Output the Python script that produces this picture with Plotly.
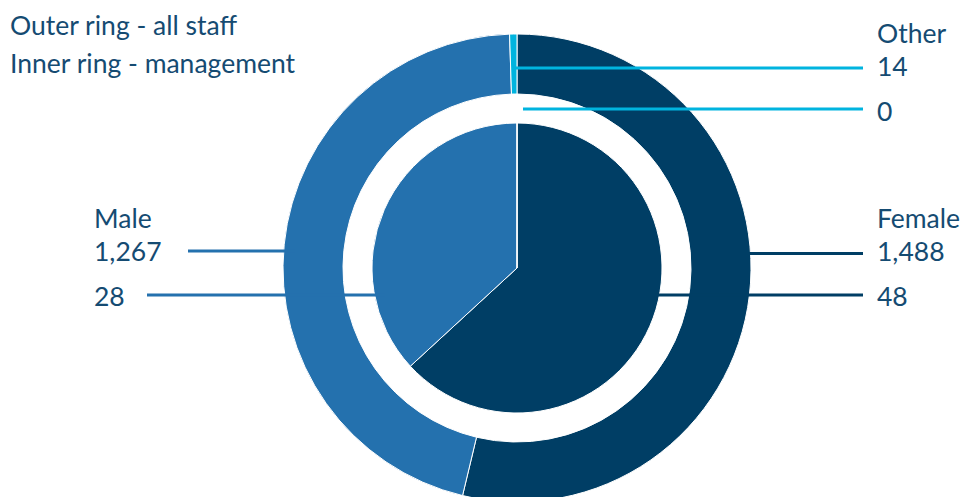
import plotly.graph_objects as go

# ---- data ----
categories = ["Female", "Male", "Other"]
all_staff = [1488, 1267, 14]
management = [48, 28, 0]
colors = ["#003e65", "#2471ae", "#00b4df"]
text_color = "#154b72"

W, H = 963, 502
cx, cy = 517, 268
r_out, r_hole, r_in = 234, 174, 145


def px(x):
    return x / W


def py(y):
    return (H - y) / H


fig = go.Figure()
fig.add_trace(go.Pie(
    labels=categories, values=all_staff, sort=False, direction="clockwise",
    rotation=0, hole=r_hole / r_out,
    marker=dict(colors=colors, line=dict(color="white", width=1)),
    textinfo="none", showlegend=False,
    domain=dict(x=[px(cx - r_out), px(cx + r_out)], y=[py(cy + r_out), py(cy - r_out)]),
))
fig.add_trace(go.Pie(
    labels=categories, values=management, sort=False, direction="clockwise",
    rotation=0,
    marker=dict(colors=colors, line=dict(color="white", width=1)),
    textinfo="none", showlegend=False,
    domain=dict(x=[px(cx - r_in), px(cx + r_in)], y=[py(cy + r_in), py(cy - r_in)]),
))

# leader lines (pixel coords -> paper)
leaders = [
    (516, 863, 68, colors[2]),
    (523, 863, 109, colors[2]),
    (740, 863, 253.5, colors[0]),
    (650, 863, 295, colors[0]),
    (188, 295, 251, colors[1]),
    (147, 385, 295, colors[1]),
]
shapes = []
for x0, x1, y, c in leaders:
    shapes.append(dict(type="line", xref="paper", yref="paper", x0=px(x0), x1=px(x1),
                       y0=py(y), y1=py(y), line=dict(color=c, width=3), layer="above"))

FS = 26.5
labels = [
    (10, 34, "Outer ring - all staff"),
    (10, 72, "Inner ring - management"),
    (877, 42, categories[2]),
    (877, 75, f"{all_staff[2]:,}"),
    (877, 120, f"{management[2]:,}"),
    (877, 227, categories[0]),
    (877, 260, f"{all_staff[0]:,}"),
    (877, 305, f"{management[0]:,}"),
    (94, 227, categories[1]),
    (94, 260, f"{all_staff[1]:,}"),
    (94, 305, f"{management[1]:,}"),
]
annotations = []
for x, base, t in labels:
    annotations.append(dict(text=t, xref="paper", yref="paper", x=px(x - 2), y=py(base - 9),
                            xanchor="left", yanchor="middle", showarrow=False,
                            font=dict(family="Lato", size=FS, color=text_color)))

fig.update_layout(
    width=W, height=H, margin=dict(l=0, r=0, t=0, b=0),
    paper_bgcolor="white", plot_bgcolor="white",
    shapes=shapes, annotations=annotations,
)

fig.write_html("out.html", post_script="document.documentElement.style.overflow='hidden';document.body.style.overflow='hidden';document.body.style.margin='0';")
